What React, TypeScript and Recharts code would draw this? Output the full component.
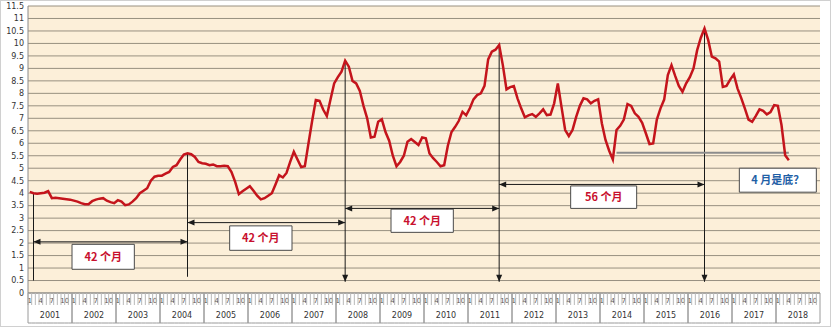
import { LineChart, Line, XAxis, YAxis, CartesianGrid, ReferenceLine, ReferenceArea } from "recharts";

const years = [2001, 2002, 2003, 2004, 2005, 2006, 2007, 2008, 2009, 2010, 2011, 2012, 2013, 2014, 2015, 2016, 2017, 2018];
const months = [1, 2, 3, 4, 5, 6, 7, 8, 9, 10, 11, 12];
const monthLabels = [1, 4, 7, 10];
const yTicks = [0, 0.5, 1, 1.5, 2, 2.5, 3, 3.5, 4, 4.5, 5, 5.5, 6, 6.5, 7, 7.5, 8, 8.5, 9, 9.5, 10, 10.5, 11, 11.5];

// monthly values
const rate2001 = [4.05, 4.0, 3.98, 4.0, 4.02, 4.08, 3.8, 3.82, 3.8, 3.78, 3.76, 3.74];
const rate2002 = [3.7, 3.66, 3.6, 3.56, 3.56, 3.68, 3.74, 3.78, 3.8, 3.7, 3.64, 3.6];
const rate2003 = [3.72, 3.66, 3.52, 3.55, 3.66, 3.8, 4.0, 4.1, 4.2, 4.5, 4.66, 4.7];
const rate2004 = [4.7, 4.78, 4.85, 5.05, 5.12, 5.35, 5.55, 5.6, 5.56, 5.45, 5.25, 5.2];
const rate2005 = [5.18, 5.12, 5.15, 5.08, 5.08, 5.1, 5.08, 4.85, 4.45, 3.96, 4.08, 4.18];
const rate2006 = [4.28, 4.1, 3.9, 3.75, 3.8, 3.9, 4.0, 4.35, 4.72, 4.63, 4.81, 5.25];
const rate2007 = [5.66, 5.35, 5.05, 5.08, 6.0, 6.9, 7.73, 7.7, 7.35, 7.09, 7.75, 8.4];
const rate2008 = [8.65, 8.87, 9.31, 9.07, 8.5, 8.4, 8.1, 7.5, 7.0, 6.23, 6.26, 6.86];
const rate2009 = [6.96, 6.45, 6.1, 5.5, 5.08, 5.25, 5.5, 6.06, 6.17, 6.05, 5.93, 6.23];
const rate2010 = [6.2, 5.59, 5.4, 5.25, 5.08, 5.12, 5.9, 6.45, 6.66, 6.9, 7.26, 7.12];
const rate2011 = [7.4, 7.76, 7.93, 8.0, 8.3, 9.36, 9.67, 9.75, 9.94, 9.13, 8.16, 8.25];
const rate2012 = [8.29, 7.8, 7.4, 7.04, 7.12, 7.17, 7.06, 7.2, 7.36, 7.13, 7.15, 7.6];
const rate2013 = [8.4, 7.46, 6.53, 6.29, 6.53, 7.06, 7.5, 7.8, 7.76, 7.6, 7.7, 7.76];
const rate2014 = [6.8, 6.13, 5.7, 5.35, 6.53, 6.7, 6.95, 7.57, 7.5, 7.2, 7.06, 6.82];
const rate2015 = [6.4, 5.97, 5.99, 6.95, 7.4, 7.75, 8.73, 9.13, 8.7, 8.3, 8.06, 8.4];
const rate2016 = [8.65, 9.0, 9.73, 10.23, 10.6, 10.14, 9.47, 9.4, 9.27, 8.26, 8.3, 8.55];
const rate2017 = [8.76, 8.2, 7.82, 7.4, 6.95, 6.86, 7.1, 7.36, 7.3, 7.16, 7.25, 7.53];
const rate2018 = [7.5, 6.73, 5.52, 5.32];

const yearly = [rate2001, rate2002, rate2003, rate2004, rate2005, rate2006, rate2007, rate2008, rate2009,
  rate2010, rate2011, rate2012, rate2013, rate2014, rate2015, rate2016, rate2017, rate2018];

// annotations
const peakKeys = ["2001-2", "2004-8", "2008-3", "2011-9", "2016-5"];
const spanLabels = ["42 个月", "42 个月", "42 个月", "56 个月"];
const spanLevels = [2.05, 2.82, 3.39, 4.35];
const spanBoxes = [
  { x1: "2002-1", x2: "2003-5", y1: 0.95, y2: 1.95 },
  { x1: "2005-8", x2: "2006-12", y1: 1.71, y2: 2.69 },
  { x1: "2009-4", x2: "2010-8", y1: 2.43, y2: 3.36 },
  { x1: "2013-5", x2: "2014-10", y1: 3.39, y2: 4.29 },
];
const bottomBox = { x1: "2017-3", x2: "2018-11", y1: 4.04, y2: 5.0, text: "4 月是底？" };
const floorLine = { from: "2014-5", to: "2018-4", level: 5.62 };

const data = years.flatMap((yr, yi) =>
  months.map((m, mi) => ({ key: `${yr}-${m}`, rate: yearly[yi][mi] ?? null }))
);
const valueAt = (key: string) => data.find((d) => d.key === key)?.rate ?? 0;

const W = 831;
const H = 327;
const PLOT_LEFT = 28;
const PLOT_RIGHT = 820;
const BAND = (PLOT_RIGHT - PLOT_LEFT) / data.length;
const CN_FONT = "'Noto Sans CJK SC', 'Noto Sans', sans-serif";

function MonthTick({ x, y, payload }: any) {
  const [yr, m] = String(payload.value).split("-").map(Number);
  const left = x - BAND / 2;
  return (
    <g>
      <line x1={left} y1={y} x2={left} y2={y + 12} stroke="#b8b8b8" />
      {monthLabels.includes(m) && (
        <text x={x + (m === 10 ? BAND / 2 : 0)} y={y + 9.5} textAnchor="middle" fontSize={7} fill="#555" fontFamily="DejaVu Sans">
          {m}
        </text>
      )}
      {m === 1 && <line x1={left} y1={y} x2={left} y2={y + 30} stroke="#9a9a9a" />}
      {m === 12 && <line x1={left + BAND} y1={y} x2={left + BAND} y2={y + 30} stroke="#9a9a9a" />}
      {m === 7 && (
        <text x={left} y={y + 25} textAnchor="middle" fontSize={8} fill="#333" fontFamily="DejaVu Sans">
          {yr}
        </text>
      )}
      <line x1={left} y1={y + 30} x2={left + BAND} y2={y + 30} stroke="#9a9a9a" />
    </g>
  );
}

function head(tx: number, ty: number, dx: number, dy: number) {
  const len = 7;
  const half = 3;
  const bx = tx - dx * len;
  const by = ty - dy * len;
  return `${tx},${ty} ${bx - dy * half},${by + dx * half} ${bx + dy * half},${by - dx * half}`;
}

const arrowShape = (startHead: boolean, endHead: boolean) => (p: any) => {
  const { x1, y1, x2, y2 } = p;
  const d = Math.hypot(x2 - x1, y2 - y1) || 1;
  const dx = (x2 - x1) / d;
  const dy = (y2 - y1) / d;
  return (
    <g>
      <line x1={x1} y1={y1} x2={x2} y2={y2} stroke="#1a1a1a" strokeWidth={1} />
      {startHead && <polygon points={head(x1, y1, -dx, -dy)} fill="#1a1a1a" />}
      {endHead && <polygon points={head(x2, y2, dx, dy)} fill="#1a1a1a" />}
    </g>
  );
};

export default function App() {
  return (
    <div style={{ position: "absolute", left: 0, top: 0, width: W, height: H, background: "#fff" }}>
      <LineChart width={W} height={H} data={data} margin={{ top: 6, right: W - PLOT_RIGHT, left: 0, bottom: 4 }}>
        <CartesianGrid vertical={false} stroke="#989080" fill="#fcefd9" />
        <XAxis
          dataKey="key"
          scale="band"
          interval={0}
          height={30}
          tickSize={0}
          tickMargin={0}
          tickLine={false}
          axisLine={{ stroke: "#8a8a8a" }}
          tick={<MonthTick />}
        />
        <YAxis
          domain={[0, 11.5]}
          ticks={yTicks}
          width={PLOT_LEFT}
          tickSize={0}
          tickMargin={4}
          tickLine={false}
          axisLine={{ stroke: "#8a8a8a" }}
          interval={0}
          tick={{ fontSize: 8, fill: "#333", fontFamily: "DejaVu Sans" }}
        />
        {peakKeys.map((k, i) => (
          <ReferenceLine
            key={`v${k}`}
            segment={[
              { x: k, y: valueAt(k) },
              { x: k, y: i === 0 ? 0.5 : i === 1 ? 0.65 : 0.45 },
            ]}
            shape={arrowShape(false, i >= 2)}
          />
        ))}
        {spanLevels.map((lv, i) => (
          <ReferenceLine
            key={`h${i}`}
            segment={[
              { x: peakKeys[i], y: lv },
              { x: peakKeys[i + 1], y: lv },
            ]}
            shape={arrowShape(true, true)}
          />
        ))}
        <ReferenceLine
          segment={[
            { x: floorLine.from, y: floorLine.level },
            { x: floorLine.to, y: floorLine.level },
          ]}
          stroke="#8c8c8c"
          strokeWidth={2}
        />
        {spanBoxes.map((b, i) => (
          <ReferenceArea
            key={`b${i}`}
            x1={b.x1}
            x2={b.x2}
            y1={b.y1}
            y2={b.y2}
            fill="#ffffff"
            fillOpacity={1}
            stroke="#4a4a4a"
            strokeWidth={1}
            label={{ value: spanLabels[i], position: "center", fill: "#c8102e", fontSize: 11, fontWeight: 700, fontFamily: CN_FONT }}
          />
        ))}
        <ReferenceArea
          x1={bottomBox.x1}
          x2={bottomBox.x2}
          y1={bottomBox.y1}
          y2={bottomBox.y2}
          fill="#ffffff"
          fillOpacity={1}
          stroke="#4a4a4a"
          strokeWidth={1}
          label={{ value: bottomBox.text, position: "center", fill: "#1f5fa6", fontSize: 11, fontWeight: 700, fontFamily: CN_FONT }}
        />
        <Line
          type="linear"
          dataKey="rate"
          stroke="#c4141c"
          strokeWidth={2.5}
          dot={false}
          isAnimationActive={false}
        />
      </LineChart>
      <div style={{ position: "absolute", left: 0, top: 0, width: W - 2, height: H - 2, border: "1px solid #d0d0d0", pointerEvents: "none" }} />
    </div>
  );
}
